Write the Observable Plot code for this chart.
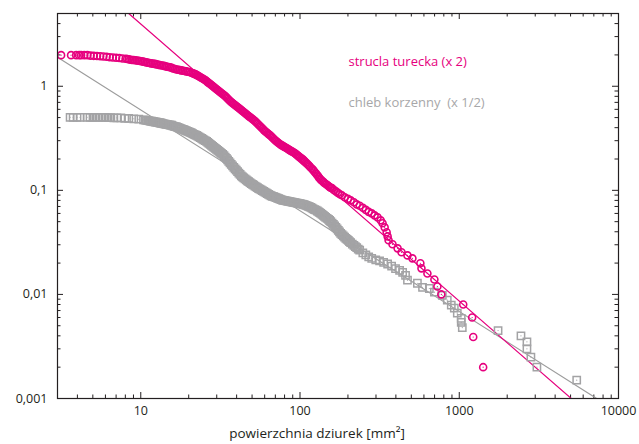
<!DOCTYPE html>
<html><head><meta charset="utf-8">
<script src="https://cdn.jsdelivr.net/npm/d3@7"></script>
<script src="https://cdn.jsdelivr.net/npm/@observablehq/plot@0.6"></script>
<style>body{margin:0;background:#fff;}</style>
</head><body><div id="chart"></div>
<script>
// strucla turecka (x 2) — circles
const pinkX = [3.16,3.65,3.93,4.1,4.22,4.42,4.62,4.84,5.07,5.31,5.56,5.82,6.10,6.38,6.68,7.00,7.33,7.67,
8.04,8.22,8.41,8.61,8.81,9.02,9.23,9.44,9.66,9.88,10.1,10.35,10.6,10.85,11.1,11.35,11.6,11.9,12.2,12.45,12.7,13.0,13.3,13.65,14.0,14.3,14.6,14.95,15.3,15.65,16.0,16.4,16.8,17.2,17.6,18.0,18.4,18.85,19.3,19.75,20.2,20.75,
21.3,21.7,22.1,22.5,22.9,23.3,23.7,24.15,24.6,25.05,25.5,25.95,26.4,26.9,27.4,27.9,28.4,28.9,29.4,29.95,30.5,31.05,31.6,32.2,32.8,33.4,34.0,34.6,35.2,35.85,36.5,37.15,37.8,38.5,39.2,39.95,40.7,41.45,42.2,42.95,43.7,44.5,45.3,46.1,46.9,47.8,48.7,49.6,50.5,51.4,52.3,53.25,54.2,55.2,56.2,57.25,58.3,59.35,60.4,61.5,62.6,63.75,64.9,66.1,67.3,68.55,69.8,71.05,72.3,73.65,75.0,76.4,77.8,79.2,80.6,82.1,83.6,85.1,86.6,88.2,89.8,91.4,93.1,94.8,96.5,98.2,100,102,104,105.5,107,109,111,113,115,117.5,120,122,124,126.5,129,131,133,135.5,138,140.5,143,146,149,151.5,154,156,
158.5,163,168,173,178,183,191,200,208,218,227,237,248,259,270,282,294,307,321,330,340,350,355,360,381,410,434,473,508,570,579,631,698,729,772,1059,1205,1224,1413];
const pinkY = [1.99,1.99,1.99,1.99,1.99,1.99,1.99,1.97,1.96,1.95,1.94,1.93,1.92,1.90,1.89,1.88,1.87,1.85,
1.84,1.83,1.82,1.80,1.79,1.785,1.78,1.77,1.76,1.75,1.74,1.725,1.71,1.695,1.68,1.67,1.66,1.65,1.64,1.63,1.62,1.605,1.59,1.58,1.57,1.555,1.54,1.53,1.52,1.50,1.48,1.465,1.45,1.44,1.43,1.42,1.41,1.40,1.39,1.38,1.37,1.35,
1.33,1.315,1.30,1.28,1.26,1.24,1.22,1.20,1.18,1.16,1.14,1.115,1.09,1.067,1.045,1.022,1.00,0.978,0.957,0.936,0.915,0.895,0.876,0.857,0.838,0.819,0.801,0.779,0.758,0.737,0.717,0.702,0.687,0.672,0.657,0.642,0.628,0.614,0.601,0.588,0.575,0.562,0.550,0.538,0.526,0.514,0.503,0.492,0.482,0.471,0.461,0.448,0.436,0.424,0.412,0.401,0.390,0.379,0.369,0.361,0.353,0.345,0.338,0.329,0.320,0.311,0.303,0.296,0.290,0.283,0.277,0.272,0.268,0.263,0.259,0.255,0.251,0.246,0.242,0.238,0.235,0.231,0.227,0.222,0.217,0.212,0.208,0.203,0.199,0.194,0.190,0.185,0.180,0.175,0.170,0.164,0.159,0.154,0.149,0.144,0.139,0.134,0.130,0.126,0.123,0.120,0.117,0.1145,0.112,0.1095,0.107,0.106,
0.105,0.101,0.0977,0.0946,0.0916,0.0896,0.0857,0.0828,0.0801,0.0767,0.0733,0.0710,0.0679,0.0649,0.0621,0.0601,0.0575,0.0550,0.0515,0.0482,0.0441,0.0395,0.0361,0.0331,0.0303,0.0277,0.0254,0.0237,0.0222,0.0199,0.0178,0.0159,0.0139,0.0119,0.0100,0.0080,0.0060,0.0039,0.0020];

// chleb korzenny (x 1/2) — squares
const grayX = [3.60,3.76,3.98,4.16,4.60,4.80,5.01,5.23,5.46,5.71,5.96,6.22,6.49,6.78,7.08,7.50,7.94,8.41,9.04,9.72,
10.4,10.65,10.9,11.1,11.3,11.5,11.7,11.9,12.1,12.35,12.6,12.85,13.1,13.3,13.5,13.75,14.0,14.25,14.5,14.8,15.1,15.35,15.6,15.9,16.2,16.5,16.8,17.1,17.4,17.7,18.0,18.35,18.7,19.05,19.4,19.75,20.1,20.45,20.8,21.2,21.6,22.0,22.4,22.8,23.2,23.65,24.1,24.5,24.9,25.4,25.9,26.35,26.8,27.3,27.8,28.3,28.8,29.35,29.9,30.45,31.0,31.55,32.1,32.7,33.3,33.9,34.5,35.1,35.7,36.35,37.0,37.7,38.4,39.1,39.8,40.55,41.3,42.05,42.8,43.55,44.3,45.15,46.0,46.8,47.6,48.5,49.4,50.3,51.2,52.15,53.1,54.05,55.0,56.0,57.0,58.05,59.1,60.2,61.3,62.4,63.5,64.7,65.9,67.1,68.3,69.55,70.8,72.1,73.4,74.75,76.1,77.45,78.8,80.3,81.8,83.25,84.7,86.25,87.8,89.4,91.0,92.7,94.4,96.1,97.9,99.5,101,103,105,107,109,111,113,115,117,119,121,123.5,126,128.5,131,133,135,137.5,140,142.5,145,148,151,153.5,156,159,162,165,168,171,174,177,180,183.5,187,190.5,194,197.5,201,204.5,208,213,218,222.5,227,232,237,
248,259,270,282,299,316,335,355,376,398,422,441,460,473,
546,588,649,698,783,841,891,931,972,1029,1029,1045,1753,2441,2661,2661,2818,3073,5465];
const grayY = [0.503,0.503,0.503,0.503,0.503,0.503,0.503,0.503,0.503,0.503,0.503,0.500,0.500,0.497,0.497,0.497,0.492,0.492,0.487,0.482,
0.476,0.4735,0.471,0.4685,0.466,0.4635,0.461,0.4585,0.456,0.4535,0.451,0.4485,0.446,0.4435,0.441,0.4385,0.436,0.4335,0.431,0.4285,0.426,0.424,0.422,0.417,0.412,0.410,0.408,0.4035,0.399,0.3945,0.390,0.386,0.382,0.3775,0.373,0.369,0.365,0.361,0.357,0.351,0.345,0.3415,0.338,0.3325,0.327,0.3215,0.316,0.311,0.306,0.301,0.296,0.2895,0.283,0.277,0.271,0.265,0.259,0.2535,0.248,0.2425,0.237,0.232,0.227,0.221,0.215,0.209,0.203,0.1965,0.190,0.184,0.178,0.172,0.166,0.161,0.156,0.151,0.146,0.142,0.138,0.135,0.132,0.129,0.126,0.1235,0.121,0.1185,0.116,0.114,0.112,0.110,0.108,0.106,0.104,0.1025,0.101,0.0993,0.0977,0.0961,0.0946,0.0931,0.0916,0.0901,0.0887,0.0877,0.0868,0.0859,0.0850,0.0841,0.0832,0.0823,0.0814,0.0807,0.0801,0.0797,0.0793,0.0788,0.0784,0.0780,0.0776,0.0771,0.0767,0.0763,0.0759,0.0754,0.0750,0.0746,0.0742,0.0737,0.0733,0.0724,0.0716,0.0708,0.0701,0.0693,0.0686,0.0674,0.0663,0.0653,0.0644,0.0633,0.0622,0.0611,0.0601,0.0588,0.0575,0.0562,0.0550,0.0538,0.0526,0.0513,0.0500,0.0485,0.0471,0.0456,0.0441,0.0426,0.0412,0.0398,0.0385,0.0375,0.0366,0.0355,0.0345,0.0338,0.0331,0.0322,0.0314,0.0305,0.0296,0.0288,0.0281,0.0273,0.0266,
0.0251,0.0240,0.0230,0.0222,0.0215,0.0210,0.0203,0.0196,0.0187,0.0177,0.0170,0.0163,0.0152,0.0137,
0.0128,0.0117,0.0114,0.0105,0.0098,0.0088,0.0079,0.0074,0.0066,0.0059,0.0054,0.0048,0.0045,0.0040,0.0035,0.0030,0.0025,0.0020,0.0015];

// power-law fit lines (end points)
const pinkFitX = [8.4, 5050];
const pinkFitY = [5, 0.001];
const grayFitX = [3, 7290];
const grayFitY = [1.9, 0.001];

const xTicks = [10, 100, 1000, 10000];
const xTickLabels = ["10", "100", "1000", "10000"];
const yTicks = [0.001, 0.01, 0.1, 1];
const yTickLabels = ["0,001", "0,01", "0,1", "1"];
const seriesNames = ["strucla turecka (x 2)", "chleb korzenny\u00a0 (x 1/2)"];
const xLabel = "powierzchnia dziurek [mm\u00b2]";

const W = 639, H = 444, mL = 57, mR = 21, mT = 13, mB = 46;
const innerW = W - mL - mR, innerH = H - mT - mB;
const PINK = "#e6007e", GRAY = "#a3a3a5", GRAYLINE = "#9c9c9c", INK = "#231f20";
const xDomain = [3, 10000], yDomain = [0.001, 5];

const isMajor = v => Math.abs(Math.log10(v) - Math.round(Math.log10(v))) < 1e-6;
const xMinor = d3.scaleLog().domain(xDomain).ticks().filter(v => !isMajor(v) && v > xDomain[0]);
const yMinor = d3.scaleLog().domain(yDomain).ticks().filter(v => !isMajor(v));

const pink = pinkX.map((x, i) => ({x, y: pinkY[i]}));
const gray = grayX.map((x, i) => ({x, y: grayY[i]}));
const pinkFit = pinkFitX.map((x, i) => ({x, y: pinkFitY[i]}));
const grayFit = grayFitX.map((x, i) => ({x, y: grayFitY[i]}));

const MAJ = 6, MIN = 3.5;
const chart = Plot.plot({
  width: W, height: H,
  marginLeft: mL, marginRight: mR, marginTop: mT, marginBottom: mB,
  style: {fontFamily: "'Open Sans', sans-serif", fontSize: "12.5px", background: "#fff", color: INK},
  x: {type: "log", domain: xDomain},
  y: {type: "log", domain: yDomain},
  marks: [
    Plot.ruleX(xTicks, {x: d => d, insetTop: innerH - MAJ, stroke: INK}),
    Plot.ruleX(xTicks, {x: d => d, insetBottom: innerH - MAJ, stroke: INK}),
    Plot.ruleX(xMinor, {x: d => d, insetTop: innerH - MIN, stroke: INK}),
    Plot.ruleX(xMinor, {x: d => d, insetBottom: innerH - MIN, stroke: INK}),
    Plot.ruleY(yTicks, {y: d => d, insetRight: innerW - MAJ, stroke: INK}),
    Plot.ruleY(yTicks, {y: d => d, insetLeft: innerW - MAJ, stroke: INK}),
    Plot.ruleY(yMinor, {y: d => d, insetRight: innerW - MIN, stroke: INK}),
    Plot.ruleY(yMinor, {y: d => d, insetLeft: innerW - MIN, stroke: INK}),
    Plot.axisX({ticks: xTicks, tickSize: 0, tickPadding: 8, label: null, fill: INK,
      tickFormat: d => xTickLabels[xTicks.indexOf(d)]}),
    Plot.axisY({ticks: yTicks, tickSize: 0, tickPadding: 10, label: null, fill: INK,
      tickFormat: d => yTickLabels[yTicks.indexOf(d)]}),
    Plot.line(grayFit, {x: "x", y: "y", stroke: GRAYLINE, strokeWidth: 1.2, clip: true}),
    Plot.line(pinkFit, {x: "x", y: "y", stroke: PINK, strokeWidth: 1.2, clip: true}),
    Plot.dot(gray, {x: "x", y: "y", symbol: "square", r: 4.1, stroke: GRAY, strokeWidth: 1.5, fill: "none", clip: true}),
    Plot.dot(gray, {x: "x", y: "y", r: 0.6, fill: GRAY, stroke: null, clip: true}),
    Plot.dot(pink, {x: "x", y: "y", r: 3.5, stroke: PINK, strokeWidth: 1.6, fill: "none", clip: true}),
    Plot.dot(pink, {x: "x", y: "y", r: 0.6, fill: PINK, stroke: null, clip: true}),
    Plot.frame({stroke: INK, strokeWidth: 1.2}),
    Plot.text([seriesNames[0]], {text: d => d, frameAnchor: "top-left", dx: 291, dy: 43, fill: PINK, textAnchor: "start", fontSize: 13}),
    Plot.text([seriesNames[1]], {text: d => d, frameAnchor: "top-left", dx: 291, dy: 84, fill: "#a7a7a9", textAnchor: "start", fontSize: 13}),
    Plot.text([xLabel], {text: d => d, frameAnchor: "bottom", dx: -21, dy: 39, fill: INK, fontSize: 13.5})
  ]
});
document.getElementById("chart").append(chart);
</script>
</body></html>
